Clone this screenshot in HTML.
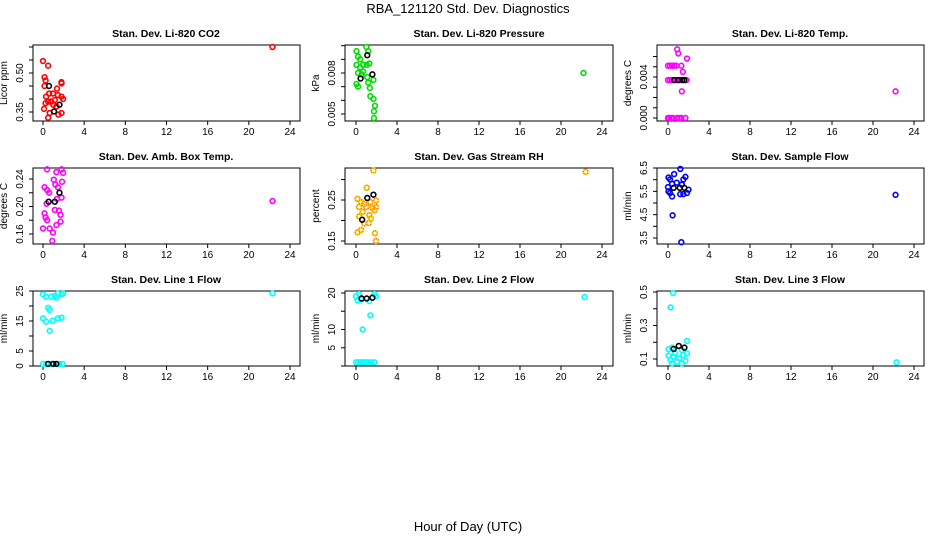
<!DOCTYPE html>
<html><head><meta charset="utf-8">
<style>
html,body{margin:0;padding:0;background:#fff;}
svg{display:block;font-family:"Liberation Sans",sans-serif;}
</style></head>
<body>
<svg id="chart" width="936" height="540" viewBox="0 0 936 540" xmlns="http://www.w3.org/2000/svg">
<text x="468" y="13" text-anchor="middle" font-size="13">RBA_121120  Std. Dev. Diagnostics</text>
<text x="468" y="531" text-anchor="middle" font-size="13">Hour of Day (UTC)</text>
</svg>
<script>
const xTicks = [0,4,8,12,16,20,24];

const p1Hours = [0,0.5,0.15,0.25,0.15,1.79,1.8,1.36,0.3,0.6,0.97,1.45,1.8,1.95,0.25,0.8,1.15,0.1,0.65,0.5,1.5,1.8,1.3,1.0,0.5,22.3];
const p1Vals  = [0.546,0.528,0.484,0.471,0.45,0.465,0.46,0.44,0.409,0.421,0.421,0.415,0.409,0.40,0.384,0.39,0.396,0.362,0.346,0.328,0.34,0.346,0.371,0.378,0.39,0.6];
const p1BlackHours = [0.58,1.6,1.07];
const p1BlackVals  = [0.45,0.378,0.352];

const p2Hours = [0.05,0.2,0.4,0.05,0.4,0.7,1.05,1.3,1.0,1.2,0.2,0.55,1.1,1.7,0.05,0.2,1.2,1.35,1.4,1.7,1.85,1.75,1.75,0.7,22.2];
const p2Vals  = [0.0096,0.0092,0.0090,0.0086,0.0084,0.0086,0.0086,0.0087,0.0099,0.0096,0.008,0.0079,0.0077,0.0075,0.0072,0.007,0.0073,0.0069,0.0063,0.0061,0.0056,0.0052,0.0047,0.0081,0.008];
const p2BlackHours = [1.1,0.45,1.6];
const p2BlackVals  = [0.0093,0.0076,0.0079];

const p3Hours = [0.9,1.0,1.85,0,0.2,0.4,0.6,0.8,1.3,1.45,0,0.2,0.4,0.8,1.2,1.8,1.35,0,0.1,0.3,0.5,0.9,1.1,1.3,1.7,22.2];
const p3Vals  = [0.0067,0.0063,0.0058,0.0051,0.0051,0.0051,0.0051,0.0051,0.0051,0.0045,0.0037,0.0037,0.0037,0.0037,0.0037,0.0037,0.0026,0,0,0,0,0,0,0,0,0.0026];
const p3BlackHours = [0.6,1.0,1.4,1.6];
const p3BlackVals  = [0.0037,0.0037,0.0037,0.0037];

const p4Hours = [0.4,1.8,1.95,1.3,1.85,1.05,1.2,1.45,0.15,0.4,0.6,1.8,0.35,1.35,1.15,1.55,1.7,0.15,0.25,0.4,1.7,1.3,0,0.65,0.97,0.9,22.3];
const p4Vals  = [0.254,0.254,0.249,0.250,0.236,0.239,0.232,0.228,0.228,0.224,0.22,0.213,0.204,0.211,0.195,0.194,0.188,0.19,0.184,0.18,0.178,0.173,0.168,0.168,0.162,0.15,0.208];
const p4BlackHours = [1.6,0.55,1.15];
const p4BlackVals  = [0.220,0.207,0.207];

const p5Hours = [1.7,1.05,0.15,0.5,0.8,1.4,1.95,0.3,1.0,1.6,1.95,0.65,1.8,0.3,1.3,1.45,0.8,1.25,0.15,0.5,1.85,1.95,22.4];
const p5Vals  = [0.322,0.28,0.253,0.245,0.241,0.245,0.249,0.233,0.233,0.231,0.233,0.221,0.225,0.21,0.213,0.205,0.193,0.194,0.171,0.177,0.169,0.15,0.319];
const p5BlackHours = [1.7,1.1,0.6];
const p5BlackVals  = [0.263,0.255,0.202];

const p6Hours = [1.2,0.6,0.05,0.2,1.7,1.5,0,0.4,0.85,0.05,0.2,1.2,1.5,1.85,2.0,1.35,0.4,0.45,1.3,22.2];
const p6Vals  = [6.46,6.24,6.09,6.01,6.12,6.01,5.68,5.82,5.87,5.5,5.43,5.38,5.38,5.43,5.57,5.79,5.28,4.47,3.32,5.35];
const p6BlackHours = [0.55,1.15,1.6];
const p6BlackVals  = [5.65,5.65,5.65];

const p7Hours = [0,0.3,0.8,1.3,1.45,1.8,1.95,1.15,0.5,0.65,0,0.3,0.95,1.45,1.8,0.65,0,0.3,0.8,1.6,1.9,22.3];
const p7Vals  = [23.9,23.1,23.1,22.8,24.2,23.9,24.2,23.4,19.4,18.7,15.9,14.8,15.1,15.9,16.1,11.7,0.7,0.7,0.7,0.7,0.7,24.2];
const p7BlackHours = [0.5,1.0,1.3];
const p7BlackVals  = [0.7,0.7,0.7];

const p8Hours = [0,0.3,0.5,0.15,1.3,1.8,1.95,1.4,0.65,0,0.2,0.4,0.6,0.8,1.0,1.2,1.5,1.8,22.3];
const p8Vals  = [19.1,19.7,18.2,18.0,17.8,19.7,19.1,13.9,10.0,1.0,1.0,1.0,1.0,1.0,1.0,1.0,1.0,1.0,18.9];
const p8BlackHours = [0.55,1.05,1.6];
const p8BlackVals  = [18.5,18.5,18.7];

const p9Hours = [0.5,0.25,1.85,0.05,0.4,1.35,0.05,0.25,0.55,0.9,1.1,1.35,1.7,1.85,0.4,0.7,1.5,22.3];
const p9Vals  = [0.494,0.408,0.208,0.158,0.168,0.154,0.12,0.094,0.114,0.084,0.104,0.074,0.088,0.134,0.074,0.134,0.124,0.08];
const p9BlackHours = [0.55,1.05,1.6];
const p9BlackVals  = [0.16,0.178,0.168];

const p1Ticks=[0.35,0.40,0.45,0.50,0.55,0.60], p1Labels=["0.35","","","0.50","",""];
const p2Ticks=[0.005,0.006,0.007,0.008,0.009,0.010], p2Labels=["0.005","","","0.008","",""];
const p3Ticks=[0,0.001,0.002,0.003,0.004,0.005,0.006], p3Labels=["0.000","","","","0.004","",""];
const p4Ticks=[0.16,0.18,0.20,0.22,0.24], p4Labels=["0.16","","0.20","","0.24"];
const p5Ticks=[0.15,0.20,0.25,0.30], p5Labels=["0.15","","0.25",""];
const p6Ticks=[3.5,4.0,4.5,5.0,5.5,6.0,6.5], p6Labels=["3.5","","4.5","","5.5","","6.5"];
const p7Ticks=[0,5,10,15,20,25], p7Labels=["0","5","","15","","25"];
const p8Ticks=[0,5,10,15,20], p8Labels=["","5","10","","20"];
const p9Ticks=[0.1,0.2,0.3,0.4,0.5], p9Labels=["0.1","","0.3","","0.5"];

const NS="http://www.w3.org/2000/svg";
const svg=document.getElementById('chart');
function mk(tag,attrs,parent){const e=document.createElementNS(NS,tag);for(const k in attrs)e.setAttribute(k,attrs[k]);(parent||svg).appendChild(e);return e;}

const cols=[{l:33,r:300,x0:43,x24:290,cx:166},{l:345,r:613,x0:356,x24:602,cx:479},{l:657,r:924,x0:668,x24:914,cx:790}];
const rows=[{t:45,b:121},{t:168,b:244},{t:291,b:366}];

const panels=[
 {name:'co2',title:'Stan. Dev. Li-820 CO2',ylab:'Licor ppm',col:0,row:0,h:p1Hours,v:p1Vals,bh:p1BlackHours,bv:p1BlackVals,ticks:p1Ticks,labels:p1Labels,ref:[0.35,112,0.50,73],color:'#ff0000'},
 {name:'pressure',title:'Stan. Dev. Li-820 Pressure',ylab:'kPa',col:1,row:0,h:p2Hours,v:p2Vals,bh:p2BlackHours,bv:p2BlackVals,ticks:p2Ticks,labels:p2Labels,ref:[0.005,114,0.008,73],color:'#00dd00'},
 {name:'licor-temp',title:'Stan. Dev. Li-820 Temp.',ylab:'degrees C',col:2,row:0,h:p3Hours,v:p3Vals,bh:p3BlackHours,bv:p3BlackVals,ticks:p3Ticks,labels:p3Labels,ref:[0,118,0.004,77],color:'#ff00ff'},
 {name:'box-temp',title:'Stan. Dev. Amb. Box Temp.',ylab:'degrees C',col:0,row:1,h:p4Hours,v:p4Vals,bh:p4BlackHours,bv:p4BlackVals,ticks:p4Ticks,labels:p4Labels,ref:[0.16,234,0.24,179],color:'#ff00ff'},
 {name:'gas-rh',title:'Stan. Dev. Gas Stream RH',ylab:'percent',col:1,row:1,h:p5Hours,v:p5Vals,bh:p5BlackHours,bv:p5BlackVals,ticks:p5Ticks,labels:p5Labels,ref:[0.15,241,0.25,200],color:'#ff6600',dots:'#ffee00'},
 {name:'sample-flow',title:'Stan. Dev. Sample Flow',ylab:'ml/min',col:2,row:1,h:p6Hours,v:p6Vals,bh:p6BlackHours,bv:p6BlackVals,ticks:p6Ticks,labels:p6Labels,ref:[3.5,238,6.5,168],color:'#0000ff'},
 {name:'line1-flow',title:'Stan. Dev. Line 1 Flow',ylab:'ml/min',col:0,row:2,h:p7Hours,v:p7Vals,bh:p7BlackHours,bv:p7BlackVals,ticks:p7Ticks,labels:p7Labels,ref:[0,366,25,291],color:'#00ffff'},
 {name:'line2-flow',title:'Stan. Dev. Line 2 Flow',ylab:'ml/min',col:1,row:2,h:p8Hours,v:p8Vals,bh:p8BlackHours,bv:p8BlackVals,ticks:p8Ticks,labels:p8Labels,ref:[0,366,20,293],color:'#00ffff'},
 {name:'line3-flow',title:'Stan. Dev. Line 3 Flow',ylab:'ml/min',col:2,row:2,h:p9Hours,v:p9Vals,bh:p9BlackHours,bv:p9BlackVals,ticks:p9Ticks,labels:p9Labels,ref:[0.1,359,0.5,292],color:'#00ffff'}
];

panels.forEach(p=>{
  const c=cols[p.col], r=rows[p.row];
  const xs=h=>c.x0+(c.x24-c.x0)*h/24;
  const ys=v=>p.ref[1]+(v-p.ref[0])*(p.ref[3]-p.ref[1])/(p.ref[2]-p.ref[0]);
  const g=mk('g',{});
  
  
  const t=mk('text',{x:c.cx,y:r.t-8,'text-anchor':'middle','font-size':'10.5','font-weight':'bold'},g);
  t.textContent=p.title;
  
  
  const box=mk('rect',{x:c.l,y:r.t,width:c.r-c.l,height:r.b-r.t,fill:'none',stroke:'#000','stroke-width':1},g);
  
  
  const xa=mk('g',{},g);
  
  
  mk('line',{x1:xs(xTicks[0]),x2:xs(xTicks[xTicks.length-1]),y1:r.b,y2:r.b,stroke:'#000'},xa);
  xTicks.forEach(tv=>{
    mk('line',{x1:xs(tv),x2:xs(tv),y1:r.b,y2:r.b+4,stroke:'#000'},xa);
    const tl=mk('text',{x:xs(tv),y:r.b+14,'text-anchor':'middle','font-size':'10'},xa);
    tl.textContent=tv;
    
    
  });
  const ya=mk('g',{},g);
  
  
  mk('line',{x1:c.l,x2:c.l,y1:ys(p.ticks[0]),y2:ys(p.ticks[p.ticks.length-1]),stroke:'#000'},ya);
  p.ticks.forEach((tv,i)=>{
    const y=ys(tv);
    mk('line',{x1:c.l-4,x2:c.l,y1:y,y2:y,stroke:'#000'},ya);
    if(p.labels[i]){
      const lx=c.l-10;
      const tl=mk('text',{x:lx,y:y,'text-anchor':'middle','font-size':'10',transform:`rotate(-90 ${lx} ${y})`},ya);
      tl.textContent=p.labels[i];
      
      
    }
  });
  const yt=(r.t+r.b)/2, yx=c.l-26;
  const ylab=mk('text',{x:yx,y:yt,'text-anchor':'middle','font-size':'10',transform:`rotate(-90 ${yx} ${yt})`},g);
  ylab.textContent=p.ylab;
  
  
  p.h.forEach((h,i)=>{
    const pt=mk('circle',{cx:xs(h),cy:ys(p.v[i]),r:2.4,fill:'none',stroke:p.color,'stroke-width':1.6},g);
    
    
    if(p.dots){
      mk('circle',{cx:xs(h),cy:ys(p.v[i]),r:2.4,fill:'none',stroke:p.dots,'stroke-width':1.6,'stroke-dasharray':'1 1'},g);
    }
  });
  p.bh.forEach((h,i)=>{
    const pt=mk('circle',{cx:xs(h),cy:ys(p.bv[i]),r:2.4,fill:'none',stroke:'#000','stroke-width':1.6},g);
    
    
  });
});
</script>
</body></html>
